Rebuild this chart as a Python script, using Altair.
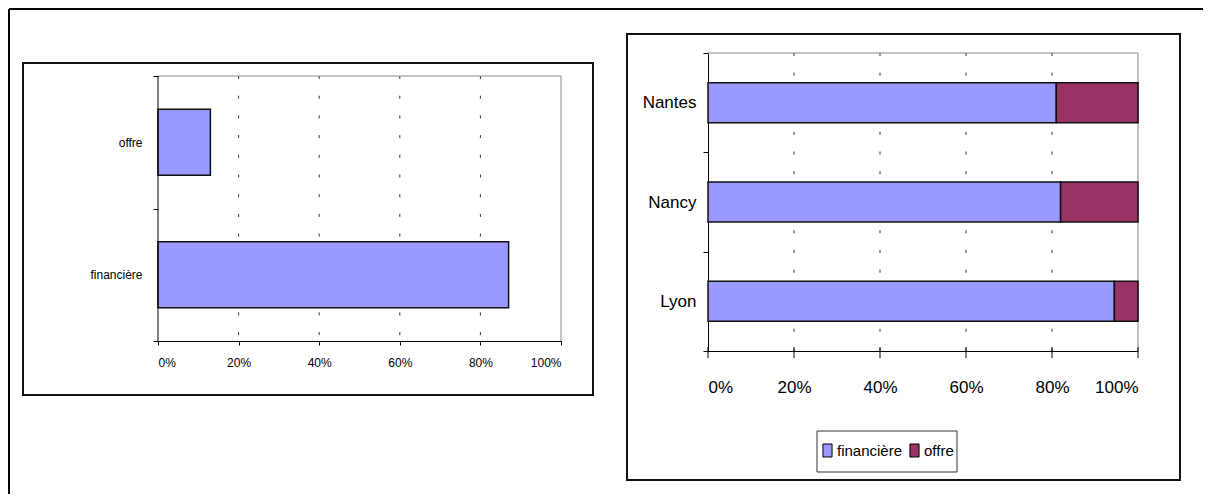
import altair as alt
import pandas as pd

# ---------------- data ----------------
left_categories = ["offre", "financière"]
left_values = [0.13, 0.87]

cities = ["Nantes", "Nancy", "Lyon"]
financiere_share = [0.81, 0.82, 0.945]
offre_share = [0.19, 0.18, 0.055]

series = ["financière", "offre"]
series_colors = ["#9999FF", "#993366"]

tick_values = [0, 0.2, 0.4, 0.6, 0.8, 1.0]
grid_values = [0.2, 0.4, 0.6, 0.8]

REG = "Liberation Sans, Arial"

one = pd.DataFrame({"a": [0]})
DASH = [3, 16.7]

# ---------------- left chart ----------------
LW, LH = 403, 288
left_df = pd.DataFrame({"cat": left_categories, "val": left_values})
lgrid_df = pd.DataFrame({"val": grid_values})

xL_scale = alt.Scale(domain=[0, 1], nice=False)
xL_axis = alt.Axis(format=".0%", values=tick_values, tickSize=4, labelPadding=12,
                   domainColor="black", tickColor="black", grid=False, title=None,
                   labelFont=REG, labelFontSize=12, labelColor="black")
yL = alt.Y("cat:N", sort=left_categories,
           scale=alt.Scale(domain=left_categories, range=[23, 288],
                           paddingInner=0, paddingOuter=0),
           axis=alt.Axis(title=None, tickBand="extent", tickSize=5, labelPadding=11,
                         domain=False, tickColor="black", grid=False,
                         labelFont=REG, labelFontSize=12, labelColor="black"))

frame_left = alt.Chart(one).mark_rule(color="black", strokeWidth=2).encode(
    x=alt.value(-149), y=alt.value(-44), y2=alt.value(441))
frame_top = alt.Chart(one).mark_rule(color="black", strokeWidth=2).encode(
    x=alt.value(-149), x2=alt.value(1045), y=alt.value(-44))
left_box = alt.Chart(one).mark_rect(fillOpacity=0, stroke="#111", strokeWidth=2).encode(
    x=alt.value(-135), x2=alt.value(435), y=alt.value(10), y2=alt.value(342))
left_grid = alt.Chart(lgrid_df).mark_rule(color="#333", strokeWidth=1, strokeDash=DASH).encode(
    x=alt.X("val:Q", scale=xL_scale, axis=xL_axis), y=alt.value(23), y2=alt.value(288))
left_top = alt.Chart(one).mark_rule(color="#888", strokeWidth=1).encode(
    x=alt.value(0), x2=alt.value(LW), y=alt.value(23))
left_right = alt.Chart(one).mark_rule(color="#888", strokeWidth=1).encode(
    x=alt.value(LW), y=alt.value(23), y2=alt.value(288))
left_bars = alt.Chart(left_df).mark_bar(color="#9999FF", stroke="#111", strokeWidth=1.5,
                                        size=66).encode(
    x=alt.X("val:Q", scale=xL_scale, axis=xL_axis), y=yL)
left_domain = alt.Chart(one).mark_rule(color="black", strokeWidth=1).encode(
    x=alt.value(0), y=alt.value(23), y2=alt.value(288))

left = alt.layer(frame_left, frame_top, left_box, left_grid, left_top, left_right,
                 left_bars, left_domain).properties(width=LW, height=LH)

# ---------------- right chart ----------------
RW, RH = 430, 298
rows = []
for i, c in enumerate(cities):
    rows.append({"city": c, "series": series[0], "val": financiere_share[i], "ord": 0})
    rows.append({"city": c, "series": series[1], "val": offre_share[i], "ord": 1})
right_df = pd.DataFrame(rows)
rgrid_df = pd.DataFrame({"val": grid_values})
rtick_df = pd.DataFrame({"val": tick_values})

xR_scale = alt.Scale(domain=[0, 1], nice=False)
xR_axis = alt.Axis(format=".0%", values=tick_values, ticks=False, labelPadding=28,
                   domainColor="black", grid=False, title=None,
                   labelFont=REG, labelFontSize=17, labelColor="black")
yR = alt.Y("city:N", sort=cities,
           scale=alt.Scale(domain=cities, paddingInner=0, paddingOuter=0),
           axis=alt.Axis(title=None, tickBand="extent", tickSize=5, labelPadding=7,
                         domainColor="black", tickColor="black", grid=False,
                         labelFont=REG, labelFontSize=17, labelColor="black"))

right_box = alt.Chart(one).mark_rect(fillOpacity=0, stroke="#111", strokeWidth=2).encode(
    x=alt.value(-81), x2=alt.value(472), y=alt.value(-19), y2=alt.value(427))
legend_box = alt.Chart(one).mark_rect(fill="white", stroke="#333", strokeWidth=1).encode(
    x=alt.value(109), x2=alt.value(249), y=alt.value(378), y2=alt.value(419))
right_grid = alt.Chart(rgrid_df).mark_rule(color="#333", strokeWidth=1, strokeDash=DASH).encode(
    x=alt.X("val:Q", scale=xR_scale, axis=xR_axis), y=alt.value(0), y2=alt.value(RH))
right_top = alt.Chart(one).mark_rule(color="#888", strokeWidth=1).encode(
    x=alt.value(0), x2=alt.value(RW), y=alt.value(0))
right_right = alt.Chart(one).mark_rule(color="#888", strokeWidth=1).encode(
    x=alt.value(RW), y=alt.value(0), y2=alt.value(RH))
right_bars = alt.Chart(right_df).mark_bar(stroke="#111", strokeWidth=1.5, size=40).encode(
    x=alt.X("val:Q", stack="zero", scale=xR_scale, axis=xR_axis),
    y=yR,
    order=alt.Order("ord:Q"),
    color=alt.Color("series:N", sort=series,
                    scale=alt.Scale(domain=series, range=series_colors),
                    legend=alt.Legend(orient="none", legendX=662, legendY=390,
                                      direction="horizontal", title=None,
                                      symbolType="M-0.7,-1H0.7V1H-0.7Z",
                                      symbolSize=169, symbolStrokeColor="black",
                                      symbolStrokeWidth=1, labelFont=REG,
                                      labelFontSize=15, labelColor="black",
                                      labelOffset=2, columnPadding=4, padding=0)))
right_ticks = alt.Chart(rtick_df).mark_rule(color="black", strokeWidth=1).encode(
    x=alt.X("val:Q", scale=xR_scale, axis=xR_axis), y=alt.value(294), y2=alt.value(305))

right = alt.layer(right_box, legend_box, right_grid, right_top, right_right, right_bars,
                  right_ticks).properties(width=RW, height=RH)

chart = alt.hconcat(left, right, spacing=147, bounds="flush", padding=0,
                    background="white").configure_view(stroke=None, strokeWidth=0)

chart.save("out.html", embed_options={"renderer": "svg", "actions": False})
